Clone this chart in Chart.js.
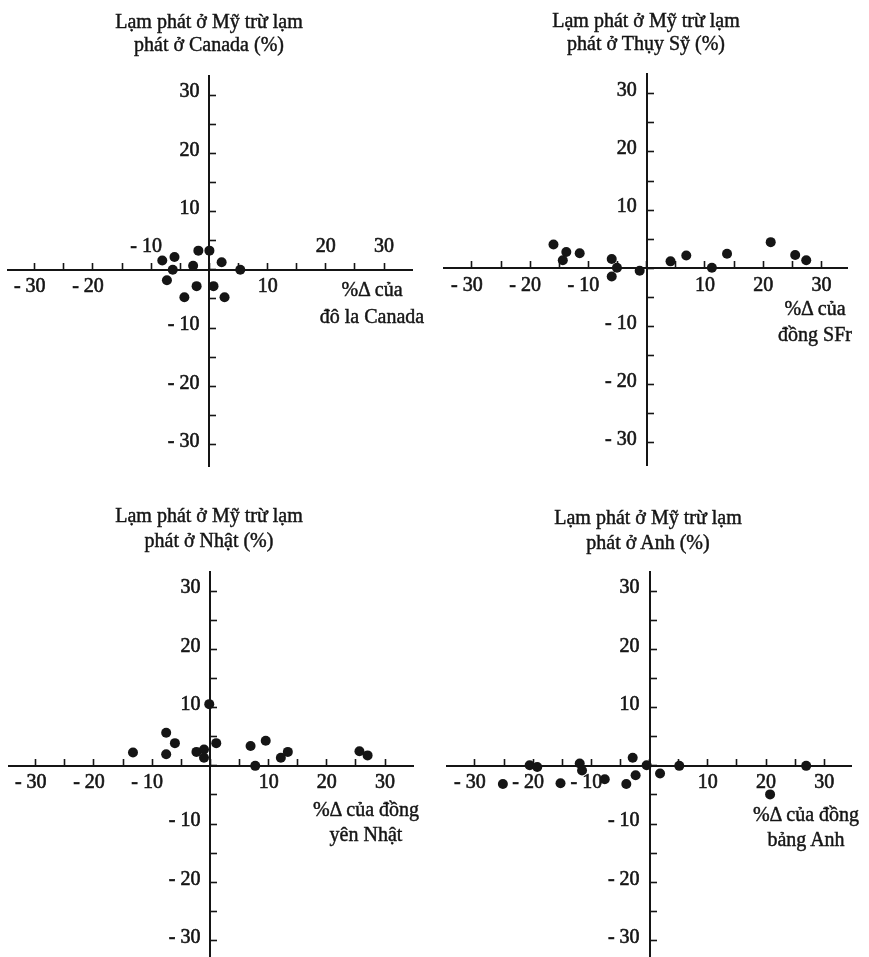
<!DOCTYPE html>
<html lang="vi">
<head>
<meta charset="utf-8">
<title>Lạm phát và tỷ giá</title>
<script src="https://cdn.jsdelivr.net/npm/chart.js@4.4.1/dist/chart.umd.min.js"></script>
<style>
html, body { margin: 0; padding: 0; background: #fff; }
#page { position: relative; width: 869px; height: 957px; overflow: hidden;
        font-family: 'Liberation Serif', 'DejaVu Serif', serif; color: #151515; }
#page canvas { position: absolute; left: 0; top: 0; }
.txt { position: absolute; width: 260px; margin-left: -130px; text-align: center;
       font-size: 20px; white-space: nowrap; -webkit-text-stroke: 0.45px #151515; }
</style>
</head>
<body>
<div id="page">
	<canvas id="c1" width="869" height="1010"></canvas>
	<canvas id="c2" width="869" height="1010"></canvas>
	<canvas id="c3" width="869" height="1010"></canvas>
	<canvas id="c4" width="869" height="1010"></canvas>

	<div class="txt" style="left:209px; top:10px; line-height:23px">Lạm phát ở Mỹ trừ lạm<br>phát ở Canada (%)</div>
	<div class="txt" style="left:646px; top:9px; line-height:23px">Lạm phát ở Mỹ trừ lạm<br>phát ở Thụy Sỹ (%)</div>
	<div class="txt" style="left:209px; top:503px; line-height:25px">Lạm phát ở Mỹ trừ lạm<br>phát ở Nhật (%)</div>
	<div class="txt" style="left:648px; top:505px; line-height:25px">Lạm phát ở Mỹ trừ lạm<br>phát ở Anh (%)</div>

	<div class="txt" style="left:372px; top:276px; line-height:26.5px">%Δ của<br>đô la Canada</div>
	<div class="txt" style="left:815px; top:295px; line-height:26px">%Δ của<br>đồng SFr</div>
	<div class="txt" style="left:366px; top:797px; line-height:25px">%Δ của đồng<br>yên Nhật</div>
	<div class="txt" style="left:806px; top:802px; line-height:25px">%Δ của đồng<br>bảng Anh</div>
</div>
<script>
// tick marks every 5 points, labels on the tens
var tickValues = [-30, -25, -20, -15, -10, -5, 0, 5, 10, 15, 20, 25, 30];

// x = %change of the currency, y = US inflation minus foreign inflation
var canadaX = [-8.1, -7.3, -6.0, -6.3, -2.8, -1.9, 0.0, 2.1, 5.3, -2.2, -4.3, 0.7, 2.6];
var canadaY = [1.6, -1.8, 2.2, 0.0, 0.7, 3.3, 3.3, 1.3, 0.0, -2.8, -4.7, -2.8, -4.7];
// Canada panel prints these x labels above the axis
var canadaLabelsAbove = [-10, 20, 30];

var swissX = [-16.0, -13.8, -14.4, -11.5, -6.0, -6.0, -5.1, -1.2, 4.1, 6.8, 11.2, 13.8, 21.3, 25.5, 27.4];
var swissY = [4.1, 2.8, 1.4, 2.6, 1.6, -1.4, 0.1, -0.4, 1.2, 2.2, 0.1, 2.5, 4.5, 2.3, 1.4];

var japanX = [-13.3, -7.6, -7.6, -6.1, -2.4, -1.1, -1.1, -0.2, 1.0, 6.9, 7.7, 9.5, 12.1, 13.3, 25.6, 27.0];
var japanY = [2.3, 5.7, 2.0, 3.9, 2.4, 2.8, 1.4, 10.6, 3.9, 3.4, 0.0, 4.3, 1.4, 2.4, 2.5, 1.8];

var ukX = [-25.2, -20.6, -19.3, -15.3, -12.0, -11.6, -7.7, -4.0, -2.9, -2.4, -0.5, 1.8, 5.1, 20.7, 26.9];
var ukY = [-3.1, 0.1, -0.2, -3.0, 0.4, -0.8, -2.3, -3.1, 1.4, -1.6, 0.1, -1.3, 0.0, -4.9, 0.0];

(function(){
	var INK = '#151515';

	Chart.defaults.font.family = "'Liberation Serif', 'DejaVu Serif', serif";
	Chart.defaults.font.size = 20;
	Chart.defaults.color = INK;

	// chart area of each panel on the page: left, right, top, bottom
	var panels = [
		{ id: 'c1', xs: canadaX, ys: canadaY, area: [8, 412, 76, 466], xr: [-34.6, 34.8], yr: [-33.7, 33.3], above: canadaLabelsAbove },
		{ id: 'c2', xs: swissX, ys: swissY, area: [444, 847, 74, 465], xr: [-34.8, 34.4], yr: [-33.8, 33.4], above: [] },
		{ id: 'c3', xs: japanX, ys: japanY, area: [9, 413, 572, 990], xr: [-34.6, 34.8], yr: [-38.5, 33.3], above: [] },
		{ id: 'c4', xs: ukX, ys: ukY, area: [447, 851, 572, 990], xr: [-34.8, 34.6], yr: [-38.5, 33.3], above: [] }
	];

	function fmt(v){
		return v < 0 ? '- ' + (-v) : String(v);
	}

	function setTicks(scale){
		scale.ticks = tickValues.map(function(v){ return { value: v }; });
	}

	function makeChart(p){
		var canvas = document.getElementById(p.id);
		var points = p.xs.map(function(x, i){ return { x: x, y: p.ys[i] }; });

		var scales = {
			x: {
				type: 'linear', min: p.xr[0], max: p.xr[1], position: { y: 0 },
				afterBuildTicks: setTicks,
				ticks: {
					autoSkip: false, maxRotation: 0, padding: 13,
					textStrokeColor: INK, textStrokeWidth: 0.6,
					callback: function(v){
						if (v % 10 !== 0 || v === 0 || p.above.indexOf(v) >= 0) return '';
						return v < 0 ? fmt(v) + '  ' : fmt(v);
					}
				},
				grid: { drawOnChartArea: false, drawTicks: true, tickLength: -8, tickWidth: 1.6, tickColor: INK },
				border: { display: true, color: INK, width: 2 }
			},
			y: {
				type: 'linear', min: p.yr[0], max: p.yr[1], position: { x: 0 },
				afterBuildTicks: setTicks,
				ticks: {
					autoSkip: false, padding: 0, labelOffset: -3,
					textStrokeColor: INK, textStrokeWidth: 0.6,
					callback: function(v){
						if (v % 10 !== 0 || v === 0) return '';
						return fmt(v) + '  ';
					}
				},
				grid: { drawOnChartArea: false, drawTicks: true, tickLength: -8, tickWidth: 1.6, tickColor: INK },
				border: { display: true, color: INK, width: 2 }
			}
		};

		if (p.above.length) {
			scales.x2 = {
				axis: 'x', type: 'linear', min: p.xr[0], max: p.xr[1], position: { y: 0 },
				afterBuildTicks: setTicks,
				ticks: {
					autoSkip: false, maxRotation: 0, padding: -35,
					textStrokeColor: INK, textStrokeWidth: 0.6,
					callback: function(v){
						if (p.above.indexOf(v) < 0) return '';
						return v < 0 ? fmt(v) + '  ' : fmt(v);
					}
				},
				grid: { display: false, drawTicks: false },
				border: { display: false }
			};
		}

		new Chart(canvas, {
			type: 'scatter',
			data: {
				datasets: [{
					data: points,
					pointRadius: 5,
					pointBackgroundColor: INK,
					pointBorderWidth: 0,
					clip: false
				}]
			},
			options: {
				responsive: false,
				animation: false,
				devicePixelRatio: 1,
				events: [],
				layout: {
					padding: {
						left: p.area[0],
						right: canvas.width - p.area[1],
						top: p.area[2],
						bottom: canvas.height - p.area[3]
					}
				},
				plugins: { legend: { display: false }, tooltip: { enabled: false }, title: { display: false } },
				scales: scales
			}
		});
	}

	panels.forEach(makeChart);
}());
</script>
</body>
</html>
